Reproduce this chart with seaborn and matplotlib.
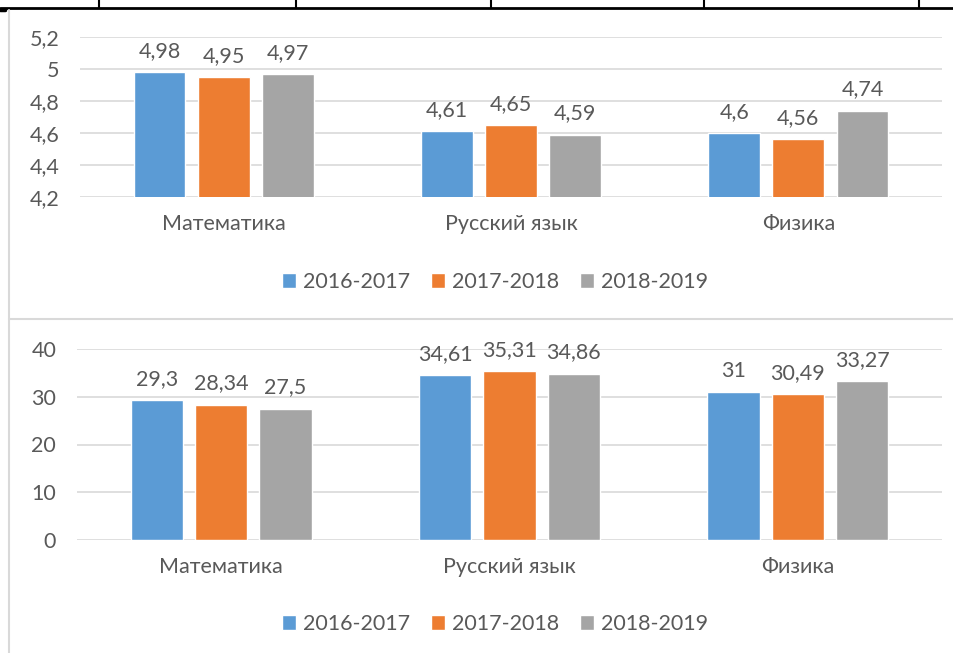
import seaborn as sns
import matplotlib.pyplot as plt
import pandas as pd
import numpy as np
from matplotlib.lines import Line2D

# Données
subjects = ['Математика', 'Русский язык', 'Физика']
years = ['2016-2017', '2017-2018', '2018-2019']
avg_grade = {
    '2016-2017': [4.98, 4.61, 4.6],
    '2017-2018': [4.95, 4.65, 4.56],
    '2018-2019': [4.97, 4.59, 4.74],
}
avg_score = {
    '2016-2017': [29.3, 34.61, 31],
    '2017-2018': [28.34, 35.31, 30.49],
    '2018-2019': [27.5, 34.86, 33.27],
}
colors = ['#5B9BD5', '#ED7D31', '#A5A5A5']
grid_col = '#D9D9D9'
txt_col = '#595959'
fs = 15.5


def to_long(d):
    rows = []
    for y in years:
        for s, v in zip(subjects, d[y]):
            rows.append({'Предмет': s, 'Год': y, 'Значение': v})
    return pd.DataFrame(rows)


def fmt(v):
    return f"{v:g}".replace('.', ',')


sns.set_style('white')
plt.rcParams['font.family'] = ['Lato', 'DejaVu Sans']

fig = plt.figure(figsize=(9.54, 6.53), dpi=100)
W, H = 954, 653


def draw(df, rect, ylim, yticks, leg_y):
    ax = fig.add_axes(rect)
    sns.barplot(data=df, x='Предмет', y='Значение', hue='Год', order=subjects,
                hue_order=years, palette=colors, width=0.67, gap=0.19,
                saturation=1, ax=ax, legend=True, zorder=3)
    ax.set_ylim(*ylim)
    ax.set_yticks(yticks)
    ax.set_yticklabels([fmt(round(t, 1)) for t in yticks])
    ax.grid(axis='y', color=grid_col, linewidth=1.2, zorder=0)
    ax.set_axisbelow(True)
    for sp in ax.spines.values():
        sp.set_visible(False)
    ax.tick_params(axis='y', length=0, pad=15, labelsize=fs, labelcolor=txt_col)
    ax.tick_params(axis='x', length=0, pad=12, labelsize=fs, labelcolor=txt_col)
    ax.set_xlabel('')
    ax.set_ylabel('')
    for cont in ax.containers:
        ax.bar_label(cont, labels=[fmt(b.get_height()) for b in cont],
                     padding=8, fontsize=fs, color=txt_col)
    ax.legend(loc='center', bbox_to_anchor=(495 / W, 1 - leg_y / H),
              bbox_transform=fig.transFigure, ncol=3, frameon=False,
              fontsize=fs, labelcolor=txt_col, handlelength=0.65,
              handleheight=0.65, handletextpad=0.3, columnspacing=1.0)
    return ax


draw(to_long(avg_grade), [80 / W, 1 - 197 / H, 862 / W, 160 / H],
     (4.2, 5.2), np.arange(4.2, 5.21, 0.2), 282)
draw(to_long(avg_score), [77 / W, 1 - 540 / H, 865 / W, 191 / H],
     (0, 40), np.arange(0, 41, 10), 624)

# Cadres (tableau au-dessus, bordures)
fig.add_artist(Line2D([0, 1], [1 - 8 / H, 1 - 8 / H], color='black', lw=2))
for x in [99, 296, 491, 704, 919]:
    fig.add_artist(Line2D([x / W, x / W], [1, 1 - 8 / H], color='black', lw=1.5))
fig.add_artist(Line2D([0, 5 / W], [1 - 10 / H, 1 - 10 / H], color='black', lw=2.5))
fig.add_artist(Line2D([9 / W, 9 / W], [1 - 10 / H, 0], color=grid_col, lw=1.5))
fig.add_artist(Line2D([9 / W, 1], [1 - 319 / H, 1 - 319 / H], color=grid_col, lw=1.5))

plt.savefig('out.png', dpi=100)
